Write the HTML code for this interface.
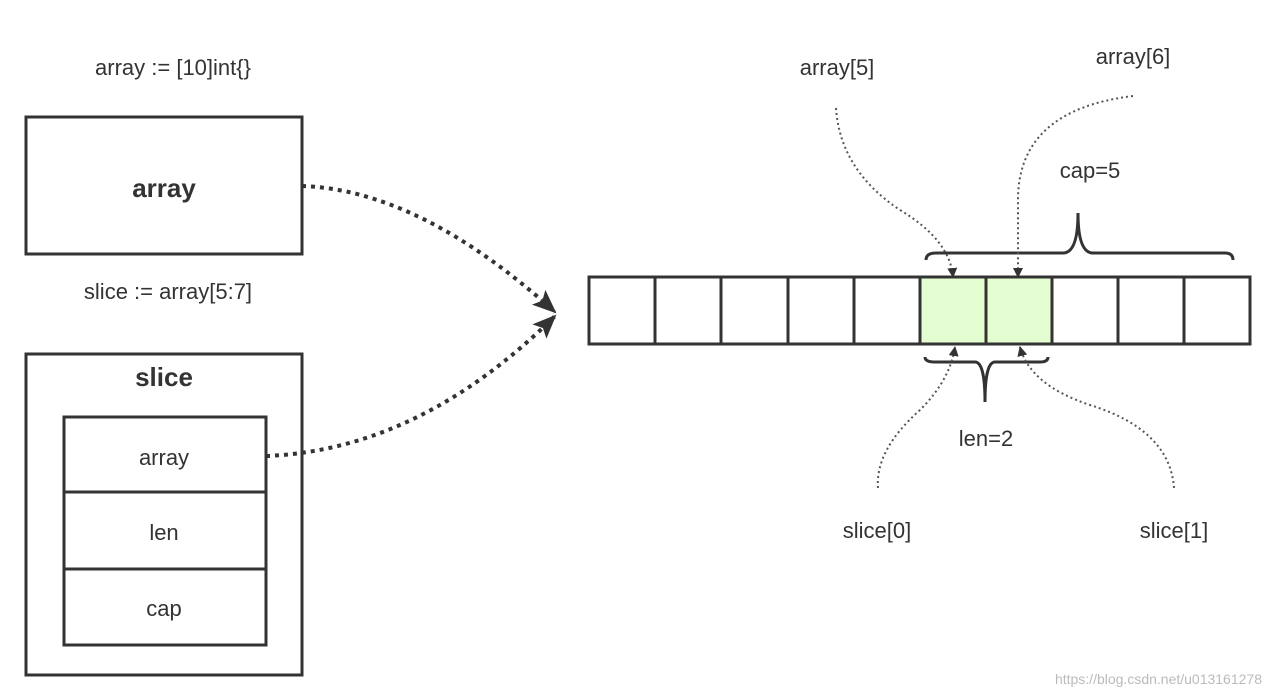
<!DOCTYPE html>
<html><head><style>
body{margin:0;background:#fff;}
svg{display:block;font-family:"Liberation Sans",sans-serif;}
</style></head><body>
<svg width="1272" height="696" viewBox="0 0 1272 696">
<defs>
<marker id="ah" markerWidth="10" markerHeight="10" refX="9" refY="5" orient="auto" markerUnits="userSpaceOnUse" viewBox="0 0 10 10">
<path d="M0,0 L10,5 L0,10 z" fill="#333"/></marker>
<marker id="ab" markerWidth="24" markerHeight="24" refX="22" refY="12" orient="auto" markerUnits="userSpaceOnUse" viewBox="0 0 24 24">
<path d="M0,2 L24,12 L0,22 L5,12 z" fill="#333"/></marker>
</defs>
<g fill="#333" font-size="22">
<text x="173" y="75" text-anchor="middle">array := [10]int{}</text>
<text x="168" y="299" text-anchor="middle">slice := array[5:7]</text>
<text x="837" y="75" text-anchor="middle">array[5]</text>
<text x="1133" y="64" text-anchor="middle">array[6]</text>
<text x="1090" y="178" text-anchor="middle">cap=5</text>
<text x="986" y="446" text-anchor="middle">len=2</text>
<text x="877" y="538" text-anchor="middle">slice[0]</text>
<text x="1174" y="538" text-anchor="middle">slice[1]</text>
<text x="164" y="197" text-anchor="middle" font-weight="bold" font-size="26">array</text>
<text x="164" y="386" text-anchor="middle" font-weight="bold" font-size="26">slice</text>
<text x="164" y="465" text-anchor="middle">array</text>
<text x="164" y="540" text-anchor="middle">len</text>
<text x="164" y="616" text-anchor="middle">cap</text>
</g>
<text x="1262" y="684" text-anchor="end" fill="#bbb" font-size="14">https://blog.csdn.net/u013161278</text>
<g fill="none" stroke="#333" stroke-width="3">
<rect x="26" y="117" width="276" height="137"/>
<rect x="26" y="354" width="276" height="321"/>
<rect x="64" y="417" width="202" height="228"/>
<line x1="64" y1="492" x2="266" y2="492"/><line x1="64" y1="569" x2="266" y2="569"/>
</g>
<rect x="919" y="277" width="132" height="67" fill="#e3fcd0"/>
<g fill="none" stroke="#333" stroke-width="3">
<rect x="589" y="277" width="661" height="67"/>
<line x1="655" y1="277" x2="655" y2="344"/><line x1="721" y1="277" x2="721" y2="344"/>
<line x1="788" y1="277" x2="788" y2="344"/><line x1="854" y1="277" x2="854" y2="344"/>
<line x1="920" y1="277" x2="920" y2="344"/><line x1="986" y1="277" x2="986" y2="344"/>
<line x1="1052" y1="277" x2="1052" y2="344"/><line x1="1118" y1="277" x2="1118" y2="344"/>
<line x1="1184" y1="277" x2="1184" y2="344"/>
<path d="M926,260 Q926,253 936,253 L1063,253 Q1078,253 1078,213 Q1078,253 1093,253 L1225,253 Q1233,253 1233,260"/>
<path d="M925,357 Q925,362 935,362 L975,362 Q985,362 985,402 Q985,362 995,362 L1040,362 Q1048,362 1048,357"/>
</g>
<g fill="none" stroke="#555" stroke-width="2" stroke-dasharray="2,3">
<path d="M836,108 Q840,170 900,210 Q950,240 953,277" marker-end="url(#ah)"/>
<path d="M1133,96 Q1018,110 1018,200 L1018,277" marker-end="url(#ah)"/>
<path d="M878,488 Q875,450 920,410 Q950,380 955,347" marker-end="url(#ah)"/>
<path d="M1174,488 Q1170,430 1090,405 Q1030,385 1020,347" marker-end="url(#ah)"/>
</g>
<g fill="none" stroke="#333" stroke-width="4" stroke-dasharray="4,5">
<path d="M302,186 Q420,190 555,312" marker-end="url(#ab)"/>
<path d="M266,456 Q420,450 555,316" marker-end="url(#ab)"/>
</g>
</svg>
</body></html>
